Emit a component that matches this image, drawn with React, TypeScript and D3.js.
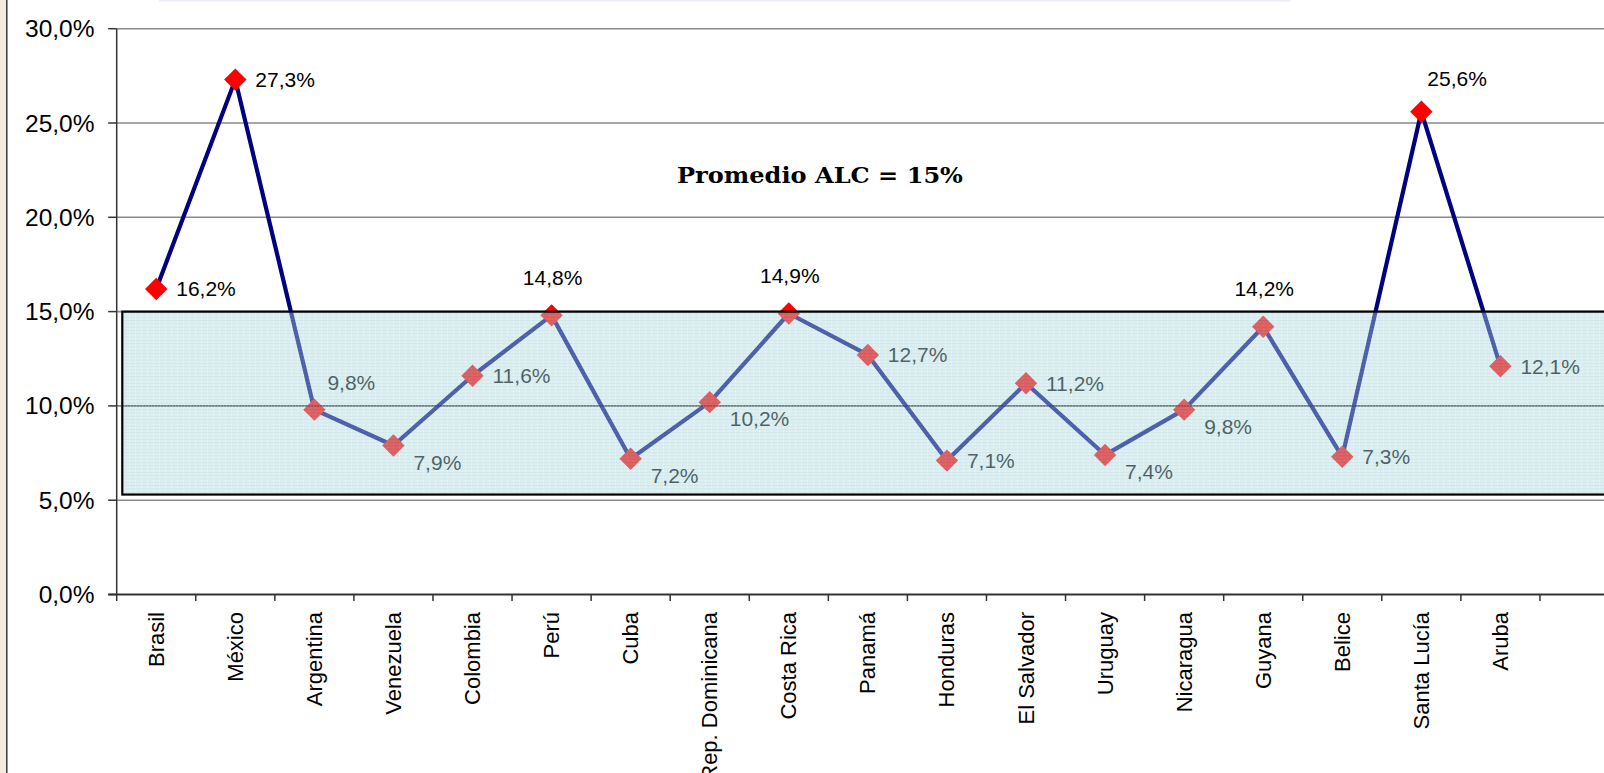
import React from "react";
import * as d3 from "d3";

const countries = [
  "Brasil", "México", "Argentina", "Venezuela", "Colombia", "Perú", "Cuba",
  "Rep. Dominicana", "Costa Rica", "Panamá", "Honduras", "El Salvador",
  "Uruguay", "Nicaragua", "Guyana", "Belice", "Santa Lucía", "Aruba",
];
const values = [16.2, 27.3, 9.8, 7.9, 11.6, 14.8, 7.2, 10.2, 14.9, 12.7, 7.1, 11.2, 7.4, 9.8, 14.2, 7.3, 25.6, 12.1];
// label placement codes: r = right, a = above, ar = above-right, br = below-right
const labelPlacement = ["r", "r", "ar", "br", "r", "a", "br", "br", "a", "r", "r", "r", "br", "br", "a", "r", "ar2", "r"];
const yTicks = [0, 5, 10, 15, 20, 25, 30];
const bandRange = [5.3, 15];
const titleText = "Promedio ALC = 15%";

const W = 1604;
const H = 773;

export default function App() {
  const slots = [...countries, "__empty1"];
  const x0 = 116.7;
  const step = 79.07;
  const x = d3.scaleBand<string>().domain(slots).range([x0, x0 + step * slots.length]).padding(0);
  const y = d3.scaleLinear().domain([0, 30]).range([594.5, 28.7]);
  const fmt = (v: number) => d3.format(".1f")(v).replace(".", ",") + "%";

  const pts = countries.map((c, i) => ({ c, v: values[i], px: (x(c) as number) + x.bandwidth() / 2, py: y(values[i]), p: labelPlacement[i] }));
  const line = d3.line<{ px: number; py: number }>().x((d) => d.px).y((d) => d.py);

  const offsets: Record<string, { dx: number; dy: number; anchor: string }> = {
    r: { dx: 20, dy: 0, anchor: "start" },
    a: { dx: 1, dy: -38, anchor: "middle" },
    ar: { dx: 13, dy: -27, anchor: "start" },
    ar2: { dx: 6, dy: -33, anchor: "start" },
    br: { dx: 20, dy: 17, anchor: "start" },
  };

  const tickXs = d3.range(slots.length + 1).map((i) => x0 + i * step);
  const diamond = (cx: number, cy: number, r: number) => `M${cx},${cy - r}L${cx + r},${cy}L${cx},${cy + r}L${cx - r},${cy}Z`;

  const bandTop = y(bandRange[1]);
  const bandBottom = y(bandRange[0]);

  return (
    <svg width={W} height={H} style={{ position: "absolute", left: 0, top: 0, display: "block", background: "#fff" }}
      fontFamily="'Liberation Sans', Arial, sans-serif">
      <defs>
        <pattern id="bandPat" patternUnits="userSpaceOnUse" width={6} height={3.3}>
          <rect x={0} y={0} width={6} height={3.3} fill="rgb(177,217,222)" />
          <rect x={0} y={0} width={6} height={0.8} fill="rgb(150,204,212)" />
          <rect x={3} y={1.8} width={1} height={1} fill="#ffffff" opacity={0.7} />
        </pattern>
      </defs>
      {/* left frame strip */}
      <rect x={0} y={0} width={6} height={H} fill="#f3ece2" />
      <line x1={6.8} x2={6.8} y1={0} y2={H} stroke="#3a3a3a" strokeWidth={1.5} />
      {/* faint top bar */}
      <rect x={159} y={0} width={1132} height={1.5} fill="#ececf4" />

      {/* gridlines */}
      {yTicks.filter((t) => t > 0).map((t) => (
        <line key={t} x1={x0} x2={W} y1={y(t)} y2={y(t)} stroke="#8a8a8a" strokeWidth={1.6} />
      ))}

      {/* y axis */}
      <line x1={x0} x2={x0} y1={y(30)} y2={y(0)} stroke="#333" strokeWidth={1.5} />
      {yTicks.map((t) => (
        <g key={t}>
          <line x1={x0 - 8.5} x2={x0} y1={y(t)} y2={y(t)} stroke="#333" strokeWidth={1.5} />
          <text x={94.5} y={y(t)} dy="0.35em" textAnchor="end" fontSize={24.5} fill="#000">{fmt(t)}</text>
        </g>
      ))}

      {/* x axis */}
      <line x1={x0 - 8.5} x2={W} y1={y(0)} y2={y(0)} stroke="#333" strokeWidth={1.8} />
      {tickXs.map((tx, i) => (
        <line key={i} x1={tx} x2={tx} y1={y(0)} y2={y(0) + 6.5} stroke="#333" strokeWidth={1.5} />
      ))}
      {countries.map((c) => {
        const cx = (x(c) as number) + x.bandwidth() / 2;
        return (
          <text key={c} transform={`translate(${cx + 7.5},${612}) rotate(-90)`} textAnchor="end" fontSize={22} fill="#000">{c}</text>
        );
      })}

      {/* series line */}
      <path d={line(pts) || ""} fill="none" stroke="#000080" strokeWidth={4.2} strokeLinejoin="round" />
      {pts.map((d) => (
        <path key={d.c} d={diamond(d.px, d.py, 11.2)} fill="#ff0000" />
      ))}
      {pts.map((d) => {
        const o = offsets[d.p];
        return (
          <text key={d.c} x={d.px + o.dx} y={d.py + o.dy} dy="0.35em" textAnchor={o.anchor} fontSize={21} fill="#000">{fmt(d.v)}</text>
        );
      })}

      {/* semi-transparent band overlay */}
      <rect x={122.3} y={bandTop} width={W - 122.3 + 20} height={bandBottom - bandTop} fill="url(#bandPat)" opacity={0.45} />
      <rect x={122.3} y={bandTop} width={W - 122.3 + 20} height={bandBottom - bandTop} fill="none" stroke="#000" strokeWidth={2.2} />
      <line x1={122.3} x2={W} y1={y(10)} y2={y(10)} stroke="#222" strokeWidth={0.8} strokeDasharray="2,1" opacity={0.8} />

      {/* title */}
      <text x={820} y={182.5} textAnchor="middle" fontFamily="'DejaVu Serif', 'Liberation Serif', serif" fontWeight="bold" fontSize={23} fill="#000"
        textLength={286} lengthAdjust="spacingAndGlyphs">{titleText}</text>
    </svg>
  );
}
